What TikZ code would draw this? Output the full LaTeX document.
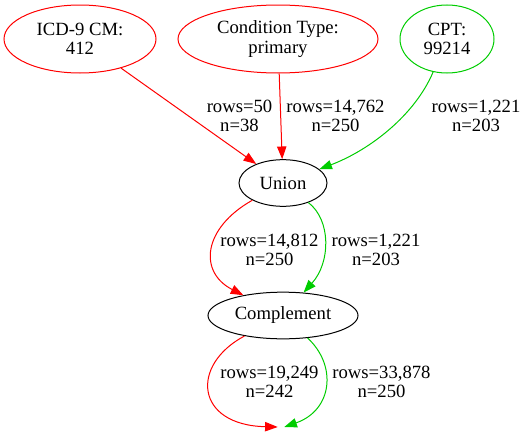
\documentclass[tikz,border=0pt]{standalone}
\usepackage{fontspec}
\setmainfont{Liberation Serif}
\usetikzlibrary{shapes.geometric,arrows.meta}
\definecolor{gvred}{RGB}{255,0,0}
\definecolor{gvgreen}{RGB}{0,205,0}
\tikzset{
  every node/.style={font=\fontsize{14}{14.5}\selectfont},
  oval/.style={ellipse, draw, line width=0.75pt, inner sep=0pt, align=center},
  tag/.style={align=center, inner sep=0pt},
  flow/.style={line width=0.75pt, -{Triangle[length=9.5pt,width=7pt]}},
  redflow/.style={flow, draw=gvred},
  greenflow/.style={flow, draw=gvgreen},
}
\begin{document}
\begin{tikzpicture}[x=0.75pt, y=-0.75pt]
\useasboundingbox (0,0) rectangle (532,432);

% source criteria
\node[oval, draw=gvred, minimum width=114pt, minimum height=51pt] (icd) at (80,39) {ICD-9 CM:\\412};
\node[oval, draw=gvred, minimum width=150pt, minimum height=51pt] (cond) at (278,39) {Condition Type:\\primary};
\node[oval, draw=gvgreen, minimum width=70.5pt, minimum height=51pt] (cpt) at (447,39) {CPT:\\99214};

% set operations
\node[oval, minimum width=66pt, minimum height=35pt] (union) at (283,183) {Union};
\node[oval, minimum width=112.5pt, minimum height=35pt] (comp) at (283,315.5) {Complement};
\node[inner sep=0pt, minimum width=4.5pt, minimum height=0pt] (sink) at (281,427) {};

% edges into the union
\draw[redflow] (icd) -- (union);
\draw[redflow] (cond) -- (union);
\draw[greenflow] (cpt) .. controls (415,115) and (370,150) .. (union);

% union to complement
\draw[redflow] (union) .. controls (203,228) and (198,272) .. (comp);
\draw[greenflow] (union) .. controls (331,220) and (331,262) .. (comp);

% complement output
\draw[redflow] (comp) .. controls (190,365) and (195,425) .. (sink.west);
\draw[greenflow] (comp) .. controls (337,365) and (333,410) .. (sink.east);

% edge labels
\node[tag] (l1) at (239.5,116) {rows=50\\n=38};
\node[tag] (l2) at (335.5,116) {rows=14,762\\n=250};
\node[tag] (l3) at (476,116) {rows=1,221\\n=203};
\node[tag] (l4) at (269.5,250) {rows=14,812\\n=250};
\node[tag] (l5) at (376,250) {rows=1,221\\n=203};
\node[tag] (l6) at (269.5,382) {rows=19,249\\n=242};
\node[tag] (l7) at (381.5,382) {rows=33,878\\n=250};
\end{tikzpicture}
\end{document}
